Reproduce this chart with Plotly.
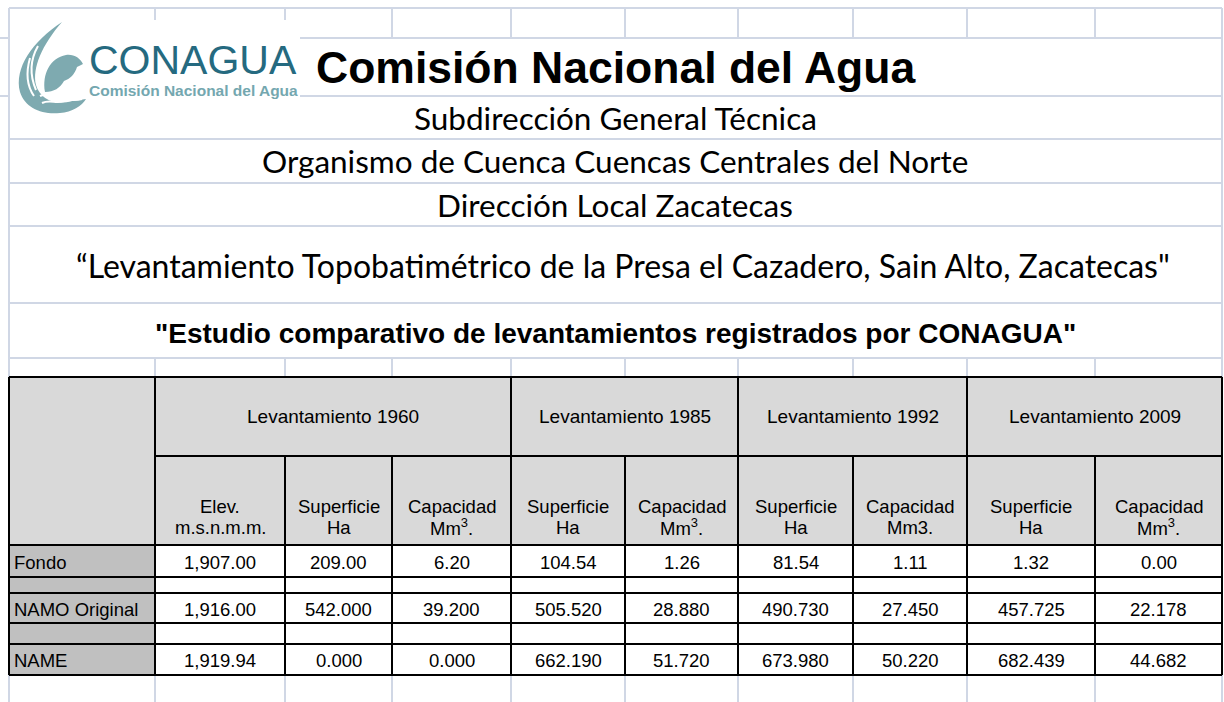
import plotly.graph_objects as go

# --- data -------------------------------------------------------------
titulo = "Comisión Nacional del Agua"
subtitulos = ["Subdirección General Técnica",
              "Organismo de Cuenca Cuencas Centrales del Norte",
              "Dirección Local Zacatecas"]
proyecto = "“Levantamiento Topobatimétrico de la Presa el Cazadero, Sain Alto, Zacatecas\""
estudio = "\"Estudio comparativo de levantamientos registrados por CONAGUA\""

levantamientos = ["Levantamiento 1960", "Levantamiento 1985", "Levantamiento 1992", "Levantamiento 2009"]
cols_por_lev = [3, 2, 2, 2]
encab_1 = ["Elev.", "Superficie", "Capacidad", "Superficie", "Capacidad",
           "Superficie", "Capacidad", "Superficie", "Capacidad"]
encab_2 = ["m.s.n.m.m.", "Ha", "Mm<sup>3</sup>.", "Ha", "Mm<sup>3</sup>.",
           "Ha", "Mm3.", "Ha", "Mm<sup>3</sup>."]
filas = ["Fondo", "", "NAMO Original", "", "NAME"]
fondo = [1907.00, 209.00, 6.20, 104.54, 1.26, 81.54, 1.11, 1.32, 0.00]
namo = [1916.00, 542.000, 39.200, 505.520, 28.880, 490.730, 27.450, 457.725, 22.178]
name_ = [1919.94, 0.000, 0.000, 662.190, 51.720, 673.980, 50.220, 682.439, 44.682]
valores = [fondo, None, namo, None, name_]
decimales = [2, None, 3, None, 3]

# --- layout geometry (pixels) -----------------------------------------
W, H = 1224, 702
col_x = [9, 155, 285, 392, 511, 625, 738, 853, 967, 1095, 1222]
row_top = [8, 38, 96, 139, 183, 226, 303, 358, 377]
t_top, h_mid, h_bot = 377, 456, 545
row_y = [545, 577, 593, 623, 644, 675]
GRID = "#d0d7e5"
ARIAL = "Liberation Sans"
CALIBRI = "Lato"

shapes = []
ann = []


def line(x0, y0, x1, y1, color=GRID, w=2):
    shapes.append(dict(type="line", x0=x0, y0=y0, x1=x1, y1=y1, xref="x", yref="y",
                       line=dict(color=color, width=w)))


def rect(x0, y0, x1, y1, fill):
    shapes.append(dict(type="rect", x0=x0, y0=y0, x1=x1, y1=y1, xref="x", yref="y",
                       fillcolor=fill, line=dict(width=0), layer="below"))


def text(x, y, s, size, family=ARIAL, color="black", bold=False, anchor="center"):
    if bold:
        s = "<b>" + s + "</b>"
    ann.append(dict(x=x, y=y, xref="x", yref="y", text=s, showarrow=False,
                    xanchor=anchor, yanchor="middle",
                    font=dict(size=size, family=family, color=color)))


# spreadsheet grid
for y in row_top:
    x_start = 300 if y in (38, 96) else col_x[0]
    line(x_start, y, col_x[-1], y)
    if y in (38, 96):
        line(0, y, col_x[0], y)
line(col_x[0], 8, col_x[0], H)
line(col_x[-1], 8, col_x[-1], H)
for x in col_x[1:-1]:
    line(x, 8, x, 20 if x < 300 else 38)
    line(x, 358, x, 377)
    line(x, 675, x, H)

# logo
rect(11, 20, 300, 130, "white")
TEAL = "#7eaab0"
shapes.append(dict(type="path", xref="x", yref="y", fillcolor=TEAL, line=dict(width=0),
                   path="M 62,22 C 32,42 14,68 20,92 C 25,108 42,115 60,113 C 72,112 82,106 86,99 "
                        "L 72,101 C 55,106 40,99 36,85 C 32,68 42,45 62,22 Z"))
shapes.append(dict(type="path", xref="x", yref="y", fillcolor=TEAL, line=dict(width=0),
                   path="M 45,92 C 42,74 50,58 66,55 C 74,54 80,58 83,64 L 77,67 "
                        "C 75,74 70,79 64,81 C 60,88 54,92 45,92 Z"))
for p in ["M 30,58 C 26,72 27,86 34,96", "M 38,46 C 30,60 30,76 36,90",
          "M 40,96 C 48,92 54,98 62,94 C 68,91 74,94 80,92",
          "M 42,103 C 50,99 56,104 64,101 C 70,99 76,101 82,99"]:
    shapes.append(dict(type="path", xref="x", yref="y", path=p,
                       line=dict(color="white", width=2)))
text(193, 60, "CONAGUA", 41, ARIAL, "#256a80")
text(193, 90, "Comisión Nacional del Agua", 15.5, ARIAL, "#74a7af", bold=True)

# headings
text(616, 67, titulo, 44.5, ARIAL, bold=True)
for i, s in enumerate(subtitulos):
    text(615, (row_top[2 + i] + row_top[3 + i]) / 2, s, 31.5, CALIBRI)
text(623, 265, proyecto, 32, CALIBRI)
text(615, 333, estudio, 28, ARIAL, bold=True)

# table fills
rect(col_x[0], t_top, col_x[-1], h_bot, "#d9d9d9")
for r in range(len(filas)):
    rect(col_x[0], row_y[r], col_x[1], row_y[r + 1], "#c0c0c0")

# table borders
K = "black"
line(col_x[0], t_top, col_x[-1], t_top, K)
line(col_x[1], h_mid, col_x[-1], h_mid, K)
for y in [h_bot] + row_y[1:]:
    line(col_x[0], y, col_x[-1], y, K)
line(col_x[0], t_top, col_x[0], row_y[-1], K)
line(col_x[-1], t_top, col_x[-1], row_y[-1], K)
line(col_x[1], t_top, col_x[1], row_y[-1], K)
c = 1
for n in cols_por_lev:
    c += n
    if c < len(col_x) - 1:
        line(col_x[c], t_top, col_x[c], row_y[-1], K)
for i in range(2, len(col_x) - 1):
    line(col_x[i], h_mid, col_x[i], row_y[-1], K)

# table texts
c = 1
for lev, n in zip(levantamientos, cols_por_lev):
    text((col_x[c] + col_x[c + n]) / 2, (t_top + h_mid) / 2, lev, 19)
    c += n
for i, (h1, h2) in enumerate(zip(encab_1, encab_2)):
    xc = (col_x[i + 1] + col_x[i + 2]) / 2
    text(xc, 506, h1, 18.5)
    text(xc, 527, h2, 18.5)
for r, lab in enumerate(filas):
    yc = (row_y[r] + row_y[r + 1]) / 2 + 1
    if lab:
        text(col_x[0] + 3, yc, lab, 18.5, anchor="left")
    if valores[r] is None:
        continue
    for i, v in enumerate(valores[r]):
        fmt = ",.2f" if i == 0 else ".%df" % decimales[r]
        text((col_x[i + 1] + col_x[i + 2]) / 2, yc, format(v, fmt), 18.5)

fig = go.Figure()
fig.update_layout(width=W, height=H, margin=dict(l=0, r=0, t=0, b=0),
                  paper_bgcolor="white", plot_bgcolor="white",
                  xaxis=dict(range=[0, W], visible=False, fixedrange=True),
                  yaxis=dict(range=[H, 0], visible=False, fixedrange=True),
                  shapes=shapes, annotations=ann, showlegend=False)
fig.write_html("out.html", config={"displayModeBar": False},
               post_script="document.body.style.margin='0';")
